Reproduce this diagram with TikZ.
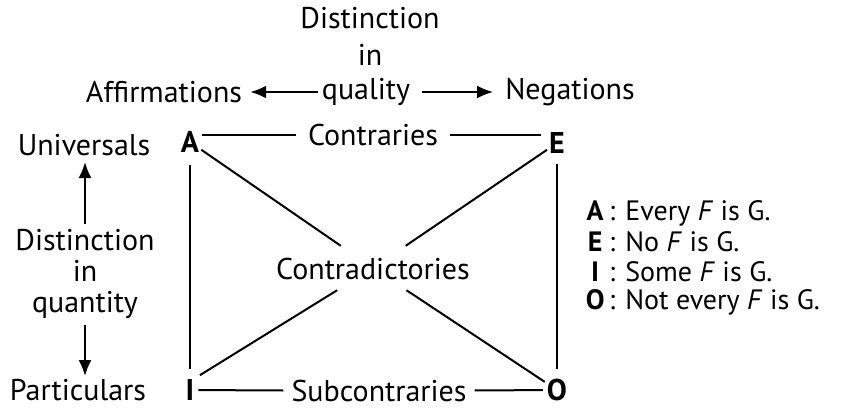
\documentclass[tikz,border=0pt]{standalone}
\usepackage{fontspec}
\setmainfont{PT Sans}
\usetikzlibrary{positioning}
\usetikzlibrary{arrows.meta}

\begin{document}
\begin{tikzpicture}
  [
    x=1pt, y=-1pt,
    lbl/.style={
       font=\fontsize{30}{31}\selectfont,
       inner sep=0pt
    },
    vtx/.style={
       font=\fontsize{30}{31}\selectfont\bfseries,
       inner sep=2pt
    },
    leg/.style={
       font=\fontsize{28}{30}\selectfont,
       inner sep=0pt,
       anchor=west
    },
    ar/.style={
       -{Latex[length=16pt,width=13pt]},
       line width=2pt
    },
    ln/.style={
       line width=2pt
    }
  ]
  \useasboundingbox (0,0) rectangle (845,410);

  % distinction in quality
  \node (dql1) at (370, 18) [lbl] {Distinction};
  \node (dql2) at (370, 55) [lbl] {in};
  \node (dql3) at (366, 92) [lbl] {quality};
  \node (aff)  at (164, 92) [lbl] {Affirmations};
  \node (neg)  at (570, 92) [lbl] {Negations};
  \draw [ar, shorten <=4pt, shorten >=8pt] (dql3) -- (aff);
  \draw [ar, shorten <=12pt, shorten >=12pt] (dql3) -- (neg);

  % distinction in quantity
  \node (uni) at ( 84,145) [lbl] {Universals};
  \node (dqn) at ( 85,274) [lbl, align=center] {Distinction\\in\\quantity};
  \node (par) at ( 78,390) [lbl] {Particulars};
  \draw [ar, shorten <=5pt, shorten >=6pt] (dqn.north) -- (dqn.north |- uni.south);
  \draw [ar, shorten <=6pt, shorten >=3pt] (dqn.south) -- (dqn.south |- par.north);

  % square of opposition
  \node (A) at (190,142) [vtx] {A};
  \node (E) at (557,143) [vtx] {E};
  \node (I) at (190,390) [vtx] {I};
  \node (O) at (557,390) [vtx] {O};

  \node (ctr) at (373,135) [lbl, inner xsep=12pt] {Contraries};
  \node (sub) at (379,391) [lbl, inner xsep=8pt] {Subcontraries};
  \node (ctd) at (373,268) [lbl, text height=22pt, text depth=0pt, inner ysep=11pt] {Contradictories};

  \draw [ln, shorten <=1pt] (ctr.west -| A.east) -- (ctr.west);
  \draw [ln, shorten >=6pt] (ctr.east) -- (ctr.east -| E.west);
  \draw [ln, shorten <=2pt] (I) -- (sub);
  \draw [ln, shorten >=2pt] (sub) -- (O);
  \draw [ln, shorten <=10pt, shorten >=8pt] (A) -- (I);
  \draw [ln, shorten <=8pt, shorten >=8pt] (E) -- (O);
  \draw [ln] (A) -- (ctd);
  \draw [ln] (ctd) -- (O);
  \draw [ln] (E) -- (ctd);
  \draw [ln, shorten <=4pt] (I.north east) -- (ctd);

  % legend
  \node (lgA) at (581,213) [leg] {\makebox[28pt]{\bfseries A}: Every \textit{F} is G.};
  \node (lgE) at (581,242) [leg] {\makebox[28pt]{\bfseries E}: No \textit{F} is G.};
  \node (lgI) at (581,272) [leg] {\makebox[28pt]{\bfseries I}: Some \textit{F} is G.};
  \node (lgO) at (581,302) [leg] {\makebox[28pt]{\bfseries O}: Not every \textit{F} is G.};
\end{tikzpicture}
\end{document}
